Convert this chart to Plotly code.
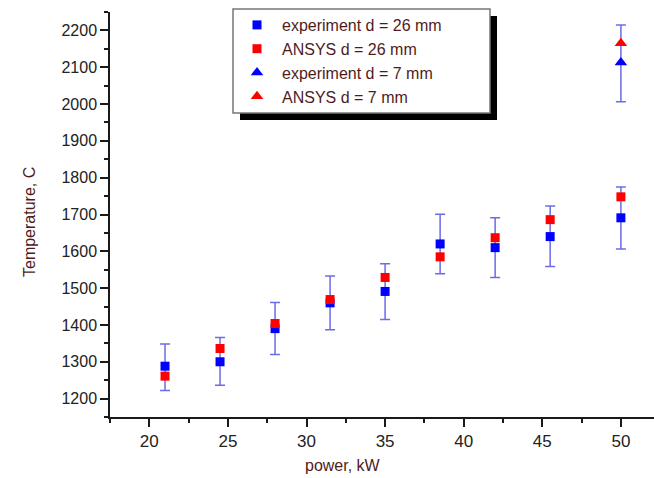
import plotly.graph_objects as go

# ---- data ----
power = [21, 24.5, 28, 31.5, 35, 38.5, 42, 45.5, 50]
exp_26 = [1288, 1300, 1390, 1460, 1491, 1620, 1610, 1640, 1691]
exp_26_hi = [1348, 1366, 1461, 1533, 1566, 1701, 1691, 1723, 1775]
exp_26_lo = [1222, 1236, 1320, 1387, 1415, 1539, 1529, 1559, 1606]
ansys_26 = [1261, 1336, 1404, 1469, 1529, 1585, 1637, 1686, 1748]

power_7 = [50]
exp_7 = [2113]
exp_7_hi = [2215]
exp_7_lo = [2006]
ansys_7 = [2165]

names = ["experiment d = 26 mm", "ANSYS d = 26 mm", "experiment d = 7 mm", "ANSYS d = 7 mm"]

FONT = "Liberation Sans, Arial, sans-serif"
MAROON = "#4f1c1c"
ERR = "rgba(70,70,225,0.8)"

W, H = 654, 478
L, R, T, B = 110, 0, 12, 61
PW, PH = W - L - R, H - T - B


def px(xp):
    return (xp - L) / PW


def py(yp):
    return (H - B - yp) / PH


fig = go.Figure()
fig.add_trace(go.Scatter(
    x=power, y=exp_26, mode="markers", name=names[0],
    marker=dict(symbol="square", size=9, color="#0000ff"),
    error_y=dict(type="data", symmetric=False,
                 array=[h - v for h, v in zip(exp_26_hi, exp_26)],
                 arrayminus=[v - l for l, v in zip(exp_26_lo, exp_26)],
                 color=ERR, thickness=1.5, width=5),
))
fig.add_trace(go.Scatter(
    x=power, y=ansys_26, mode="markers", name=names[1],
    marker=dict(symbol="square", size=9, color="#ff0000"),
))
fig.add_trace(go.Scatter(
    x=power_7, y=exp_7, mode="markers", name=names[2],
    marker=dict(symbol="triangle-up", size=11, color="#0000ff"),
    error_y=dict(type="data", symmetric=False,
                 array=[h - v for h, v in zip(exp_7_hi, exp_7)],
                 arrayminus=[v - l for l, v in zip(exp_7_lo, exp_7)],
                 color=ERR, thickness=1.5, width=5),
))
fig.add_trace(go.Scatter(
    x=power_7, y=ansys_7, mode="markers", name=names[3],
    marker=dict(symbol="triangle-up", size=11, color="#ff0000"),
))

axis_common = dict(
    showline=True, linecolor="#1a1a1a", linewidth=1.5, showgrid=False, zeroline=False,
    ticks="outside", tickcolor="#1a1a1a", tickwidth=1.5, ticklen=8,
)

fig.update_xaxes(
    range=[17.5, 17.5 + PW / 15.72], dtick=5, tick0=0,
    tickfont=dict(family=FONT, size=17, color="#222"),
    minor=dict(dtick=2.5, ticks="outside", ticklen=4, tickcolor="#1a1a1a", tickwidth=1.5),
    **axis_common,
)
fig.update_yaxes(
    range=[1150, 2250], dtick=100, tick0=0,
    tickfont=dict(family=FONT, size=16, color="#222"),
    minor=dict(dtick=50, ticks="outside", ticklen=4, tickcolor="#1a1a1a", tickwidth=1.5),
    **axis_common,
)

# legend box with drop shadow
fig.add_shape(type="rect", xref="paper", yref="paper",
              x0=px(240), x1=px(497), y0=py(120), y1=py(16),
              fillcolor="black", line=dict(width=0), layer="above")
fig.add_shape(type="rect", xref="paper", yref="paper",
              x0=px(233), x1=px(490), y0=py(113), y1=py(9),
              fillcolor="white", line=dict(color="#777", width=1.5), layer="above")

fig.add_annotation(text="Temperature, C", xref="paper", yref="paper",
                   x=px(29), y=py(222), xanchor="center", yanchor="middle",
                   textangle=-90, showarrow=False,
                   font=dict(family=FONT, size=16, color=MAROON))
fig.add_annotation(text="power, kW", xref="paper", yref="paper",
                   x=px(343), y=py(466), xanchor="center", yanchor="middle",
                   showarrow=False,
                   font=dict(family=FONT, size=16, color=MAROON))

fig.update_layout(
    width=W, height=H,
    margin=dict(l=L, r=R, t=T, b=B),
    paper_bgcolor="white", plot_bgcolor="white",
    showlegend=True,
    legend=dict(x=px(232), y=py(8), xanchor="left", yanchor="top",
                bgcolor="rgba(0,0,0,0)", borderwidth=0, itemwidth=40,
                font=dict(family=FONT, size=16, color=MAROON)),
)

fig.write_html("out.html", config={"displayModeBar": False},
               post_script="document.body.style.margin='0';document.body.style.overflow='hidden';")
